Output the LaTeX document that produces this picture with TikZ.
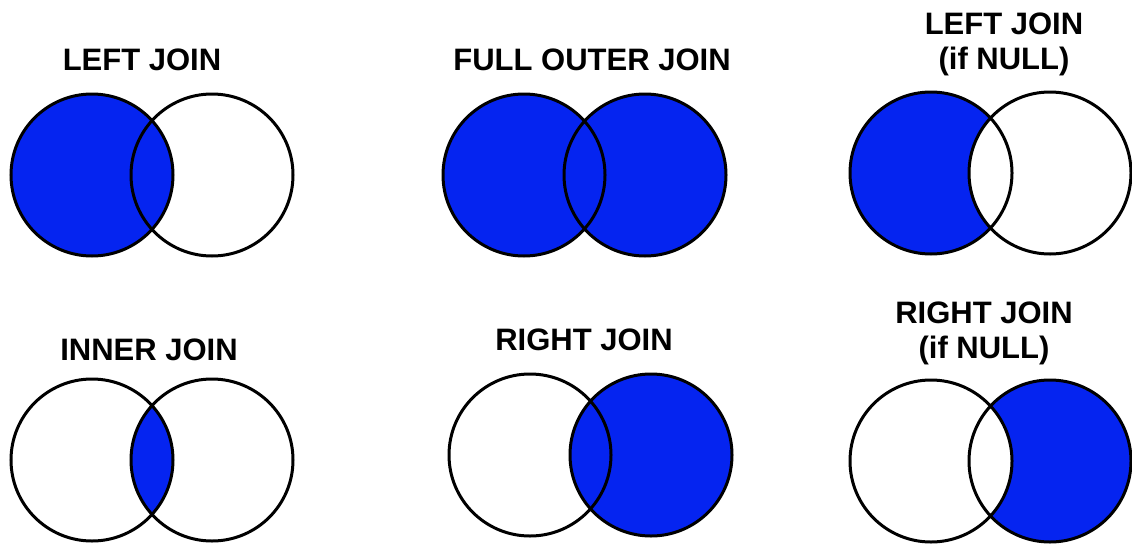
\documentclass[tikz,border=0pt]{standalone}
\usepackage{fontspec}
\setmainfont{Liberation Sans}
\usepackage{xcolor,tikz}
\usetikzlibrary{positioning}
\definecolor{joinblue}{HTML}{0524F0}
\tikzset{title/.style={font=\fontsize{31}{35}\selectfont\bfseries,align=center,
  inner sep=0pt,anchor=base},
  ring/.style={draw=black,line width=3pt},
  area/.style={fill=joinblue}}
\newcommand{\rad}{81}

\begin{document}
\begin{tikzpicture}[x=1pt,y=-1pt]
\useasboundingbox (0,0) rectangle (1132,544);
% circle centres
\coordinate (ljA) at (92,175);   \coordinate (ljB) at (212,175);
\coordinate (foA) at (524,175);  \coordinate (foB) at (645,175);
\coordinate (lnA) at (931,173);  \coordinate (lnB) at (1050,173);
\coordinate (ijA) at (92,460);   \coordinate (ijB) at (212,460);
\coordinate (rjA) at (530,455);  \coordinate (rjB) at (651,455);
\coordinate (rnA) at (931,461);  \coordinate (rnB) at (1050,461);
% titles (base = last line)
\node[title] (ljT) at (142,70) {LEFT JOIN};
\node[title] (foT) at (592,70) {FULL OUTER JOIN};
\node[title] (lnT) at (1004,69) {LEFT JOIN\\(if NULL)};
\node[title] (ijT) at (149,360) {INNER JOIN};
\node[title] (rjT) at (584,350) {RIGHT JOIN};
\node[title] (rnT) at (984,358) {RIGHT JOIN\\(if NULL)};
% left join
\fill[area] (ljA) circle[radius=\rad];
\draw[ring] (ljA) circle[radius=\rad] (ljB) circle[radius=\rad];
% full outer join
\fill[area] (foA) circle[radius=\rad] (foB) circle[radius=\rad];
\draw[ring] (foA) circle[radius=\rad] (foB) circle[radius=\rad];
% left join, if null
\fill[area] (lnA) circle[radius=\rad];
\fill[white] (lnB) circle[radius=\rad];
\draw[ring] (lnA) circle[radius=\rad] (lnB) circle[radius=\rad];
% inner join
\begin{scope}
\clip (ijA) circle[radius=\rad];
\fill[area] (ijB) circle[radius=\rad];
\end{scope}
\draw[ring] (ijA) circle[radius=\rad] (ijB) circle[radius=\rad];
% right join
\fill[area] (rjB) circle[radius=\rad];
\draw[ring] (rjA) circle[radius=\rad] (rjB) circle[radius=\rad];
% right join, if null
\fill[area] (rnB) circle[radius=\rad];
\fill[white] (rnA) circle[radius=\rad];
\draw[ring] (rnA) circle[radius=\rad] (rnB) circle[radius=\rad];
\end{tikzpicture}
\end{document}
